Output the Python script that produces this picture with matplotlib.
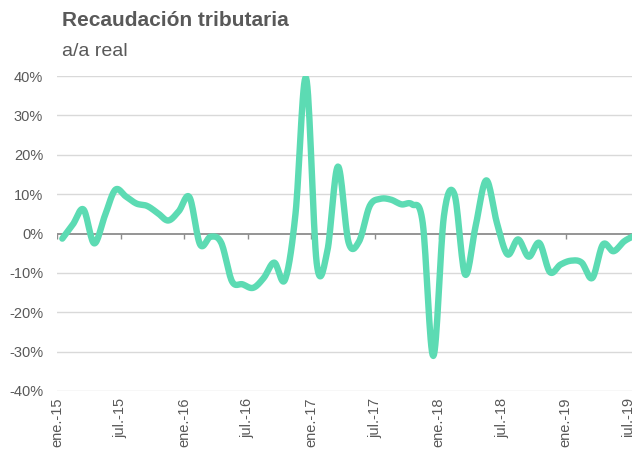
import numpy as np
import matplotlib
matplotlib.use("Agg")
import matplotlib.pyplot as plt

# monthly real y/y change in tax revenue, ene-15 .. jul-19
values = [-1.3, 2.3, 6.1, -2.5, 4.4, 11.1, 9.4, 7.6, 7.0, 5.2, 3.3, 5.7,
          9.2, -2.8, -0.8, -2.4, -12.1, -12.9, -13.8, -11.3, -7.4, -11.8, 5.0, 39.5,
          -7.5, -4.5, 17.0, -2.2, -2.0, 7.0, 8.8, 8.6, 7.4, 7.4, 2.7, -31.1,
          4.4, 9.9, -10.4, 2.0, 13.5, 2.7, -5.3, -1.5, -5.9, -2.4, -9.8, -7.9,
          -6.9, -7.4, -11.3, -2.8, -4.5, -2.0, -0.5]
tick_labels = ["ene.-15", "jul.-15", "ene.-16", "jul.-16", "ene.-17",
               "jul.-17", "ene.-18", "jul.-18", "ene.-19", "jul.-19"]
y_ticks = [-40, -30, -20, -10, 0, 10, 20, 30, 40]

LINE = "#5CDBB3"
GREY = "#595959"
FONT = ["Liberation Sans Narrow", "Liberation Sans", "DejaVu Sans"]


def catmull_rom(x, y, steps=16):
    # smooth path through every point, like a spreadsheet "smoothed line"
    x = np.asarray(x, float)
    y = np.asarray(y, float)
    px = np.concatenate([[2 * x[0] - x[1]], x, [2 * x[-1] - x[-2]]])
    py = np.concatenate([[2 * y[0] - y[1]], y, [2 * y[-1] - y[-2]]])
    xs, ys = [], []
    t = np.linspace(0, 1, steps, endpoint=False)
    for k in range(1, len(px) - 2):
        for p, out in ((px, xs), (py, ys)):
            p0, p1, p2, p3 = p[k - 1], p[k], p[k + 1], p[k + 2]
            out.extend(0.5 * (2 * p1 + (-p0 + p2) * t
                              + (2 * p0 - 5 * p1 + 4 * p2 - p3) * t ** 2
                              + (-p0 + 3 * p1 - 3 * p2 + p3) * t ** 3))
    xs.append(x[-1])
    ys.append(y[-1])
    return np.array(xs), np.array(ys)


plt.rcParams['font.family'] = FONT

fig = plt.figure(figsize=(6.32, 4.5), dpi=100)
ax = fig.add_axes([57 / 632, 59 / 450, 583 / 632, 315 / 450])

idx = np.arange(len(values))
ax.set_xlim(-0.5, len(values) - 0.5)
ax.set_ylim(-40, 40)

for v in y_ticks:
    if v != 0:
        ax.axhline(v, color="#D9D9D9", lw=1.0, zorder=1)
ax.axhline(0, color="#8C8C8C", lw=1.3, zorder=2)

tick_pos = np.arange(len(tick_labels)) * 6 - 0.5
ax.vlines(tick_pos, -1.3, 0, color="#8C8C8C", lw=1.0, zorder=2)

sx, sy = catmull_rom(idx, values)
ax.plot(sx, sy, color=LINE, lw=4.6, solid_capstyle="round",
        solid_joinstyle="round", zorder=3)

for s in ax.spines.values():
    s.set_visible(False)

ax.set_yticks(y_ticks)
ax.set_yticklabels([f"{v}%" for v in y_ticks])
ax.set_xticks(tick_pos)
ax.set_xticklabels(tick_labels, rotation=90)
ax.tick_params(axis="both", length=0, colors=GREY, labelsize=10.5)
ax.tick_params(axis="y", pad=10)
ax.tick_params(axis="x", pad=5)

fig.text(62 / 632, 1 - 20 / 450, "Recaudación tributaria", fontsize=15,
         fontweight="bold", color=GREY, va="center", ha="left")
fig.text(62 / 632, 1 - 51 / 450, "a/a real", fontsize=14,
         color=GREY, va="center", ha="left")

fig.savefig("out.png", dpi=100)
